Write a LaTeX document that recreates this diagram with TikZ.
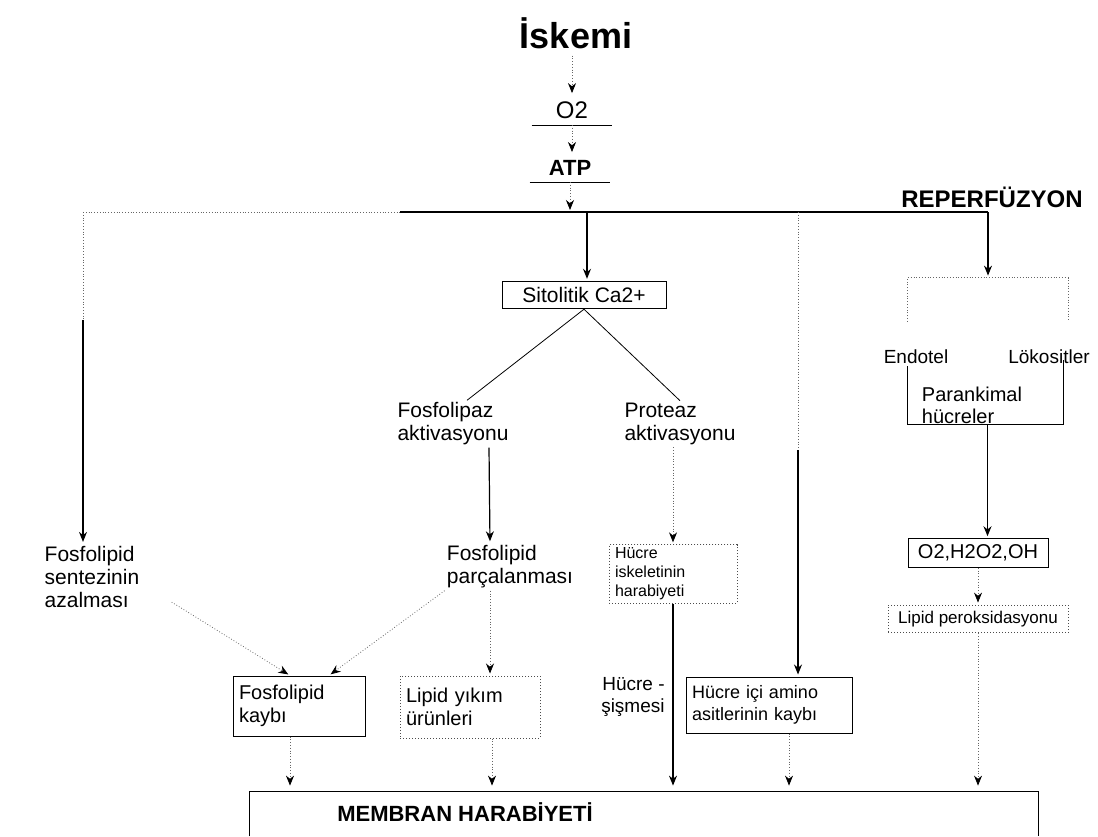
\documentclass[tikz,border=0pt]{standalone}
\usepackage{fontspec}
\setmainfont{Liberation Sans}
\usetikzlibrary{arrows.meta,positioning}
\begin{document}
\begin{tikzpicture}[x=0.5pt,y=-0.5pt]
            \tikzstyle{txt}=[inner sep=1pt,align=left,font=\fontsize{10.5}{11.5}\selectfont]
            \tikzstyle{sol box}=[draw,line width=0.5pt,inner sep=3pt,align=left,font=\fontsize{10}{11.5}\selectfont]
            \tikzstyle{dot box}=[sol box,densely dotted,draw=black!70]
            \tikzstyle{under node}=[minimum width=40pt,inner xsep=0pt,inner ysep=3pt]
            \tikzstyle{sol arrow}=[line width=0.6pt,-{Stealth[length=5pt,width=4pt]},shorten >=1pt]
            \tikzstyle{dot arrow}=[densely dotted,draw=black!60,-{Stealth[length=5pt,width=4pt,black]},shorten >=1pt]
            \tikzstyle{dot line}=[densely dotted,draw=black!60]
            \useasboundingbox (0,0) rectangle (1098,836);

            % top chain
            \node[font=\fontsize{18}{21}\selectfont\bfseries] (iskemi) at (576,33) {İskemi};
            \node[under node,font=\fontsize{12}{14}\selectfont] (otwo) at (572,110) {O2};
            \node[under node,font=\fontsize{11}{13}\selectfont\bfseries] (atp) at (570,168) {ATP};
            \draw (otwo.south west) -- (otwo.south east);
            \draw (atp.south west) -- (atp.south east);
            \node[font=\fontsize{12}{14}\selectfont\bfseries] (reperf) at (992,197) {REPERFÜZYON};

            \coordinate (busL) at (83,212);
            \coordinate (busM) at (400,212);
            \coordinate (busC) at (587,212);
            \coordinate (busA) at (798,212);
            \coordinate (busR) at (988,212);

            \draw[dot arrow] (iskemi.south -| otwo.north) -- (otwo.north);
            \draw[dot arrow] (otwo.south) -- (otwo.south |- atp.north);
            \draw[dot arrow] (atp.south) -- (atp.south |- busL);
            \draw[dot line] (busL) -- (busM);
            \draw[line width=0.6pt] (busM) -- (busR);

            % middle
            \node[sol box,minimum width=82pt,minimum height=11pt,align=center,font=\fontsize{10.5}{12}\selectfont] (sito) at (584,295) {Sitolitik Ca2+};
            \node[txt] (fosf) at (453,424) {Fosfolipaz\\aktivasyonu};
            \node[txt] (prot) at (680,424) {Proteaz\\aktivasyonu};
            \node[txt] (parc) at (510,567) {Fosfolipid\\parçalanması};
            \node[dot box,text width=58pt,minimum height=28pt,inner ysep=1.5pt,font=\fontsize{8}{9.5}\selectfont] (isk) at (673,574) {Hücre\\iskeletinin\\harabiyeti};
            \node[txt] (sentez) at (92,577) {Fosfolipid\\sentezinin\\azalması};

            \draw[sol arrow] (busC) -- (busC |- sito.north);
            \draw (sito.south) -- ([xshift=7pt]fosf.north);
            \draw (sito.south) -- (prot.north);
            \draw[sol arrow] ([xshift=18pt]fosf.south) -- ([xshift=-10pt]parc.north);
            \draw[dot arrow] (prot.south -| isk.north) -- (isk.north);

            \coordinate (lmid) at (83,320);
            \draw[dot line] (busL) -- (lmid);
            \draw[sol arrow] (lmid) -- (lmid |- sentez.north);

            % lower row
            \node[sol box,text width=60pt,minimum height=30pt] (kayb) at (299,706) {Fosfolipid\\kaybı};
            \node[dot box,text width=64pt,minimum height=31pt] (yikim) at (470,707) {Lipid yıkım\\ürünleri};
            \node[txt,align=right,anchor=east,font=\fontsize{9.5}{11}\selectfont] (sisme) at (667,697) {Hücre -\\şişmesi};
            \node[sol box,text width=77pt,minimum height=28pt,font=\fontsize{9}{11}\selectfont] (icamino) at (769,705) {Hücre içi amino\\asitlerinin kaybı};

            \draw[dot arrow] ([shift={(15pt,4pt)}]sentez.south east) -- ([xshift=-4.5pt]kayb.north);
            \draw[dot arrow] (parc.south west) -- ([xshift=15pt]kayb.north);
            \draw[dot arrow] ([xshift=-10pt]parc.south) -- ([xshift=10pt]yikim.north);

            \coordinate (amid) at (798,450);
            \draw[dot line] (busA) -- (amid);
            \draw[sol arrow] (amid) -- (amid |- icamino.north);

            % reperfusion side
            \node[minimum width=80pt,minimum height=73pt,inner sep=0pt] (cells) at (987.5,351) {};
            \draw[dot line] ([yshift=-22pt]cells.north west) -- (cells.north west) -- (cells.north east) -- ([yshift=-22pt]cells.north east);
            \draw[thin] ([yshift=29pt]cells.south west) -- (cells.south west) -- ([xshift=-2.5pt]cells.south east) -- ([shift={(-2.5pt,32pt)}]cells.south east);
            \node[txt,font=\fontsize{9.5}{11}\selectfont] (endo) at (916,357) {Endotel};
            \node[txt,font=\fontsize{9.5}{11}\selectfont] (loko) at (1049,357) {Lökositler};
            \node[txt,font=\fontsize{10}{11}\selectfont] (paren) at (972,405) {Parankimal\\hücreler};
            \node[sol box,minimum width=70pt,minimum height=13.5pt,align=center] (ros) at (978,553) {O2,H2O2,OH};
            \node[dot box,minimum width=90pt,minimum height=13.5pt,align=center,font=\fontsize{8.5}{10}\selectfont] (perok) at (978,619) {Lipid peroksidasyonu};

            \draw[sol arrow] (busR) -- (busR |- cells.north);
            \draw[sol arrow] (cells.south) -- (cells.south |- ros.north);
            \draw[dot arrow] (ros.south) -- (perok.north);

            % bottom
            \node[minimum width=394pt,minimum height=22pt,inner sep=0pt] (memb) at (644,814) {};
            \draw[thin] (memb.south west) -- (memb.north west) -- (memb.north east) -- (memb.south east);
            \node[font=\fontsize{11}{13}\selectfont\bfseries] (membtxt) at (465,812) {MEMBRAN HARABİYETİ};

            \draw[dot arrow,shorten >=3pt] ([xshift=-4.5pt]kayb.south) -- ([xshift=-4.5pt]kayb.south |- memb.north);
            \draw[dot arrow,shorten >=3pt] ([xshift=11pt]yikim.south) -- ([xshift=11pt]yikim.south |- memb.north);
            \draw[sol arrow,shorten >=3pt] (isk.south) -- (isk.south |- memb.north);
            \draw[dot arrow,shorten >=3pt] ([xshift=10pt]icamino.south) -- ([xshift=10pt]icamino.south |- memb.north);
            \draw[dot arrow,shorten >=3pt] (perok.south) -- (perok.south |- memb.north);
        \end{tikzpicture}
\end{document}
